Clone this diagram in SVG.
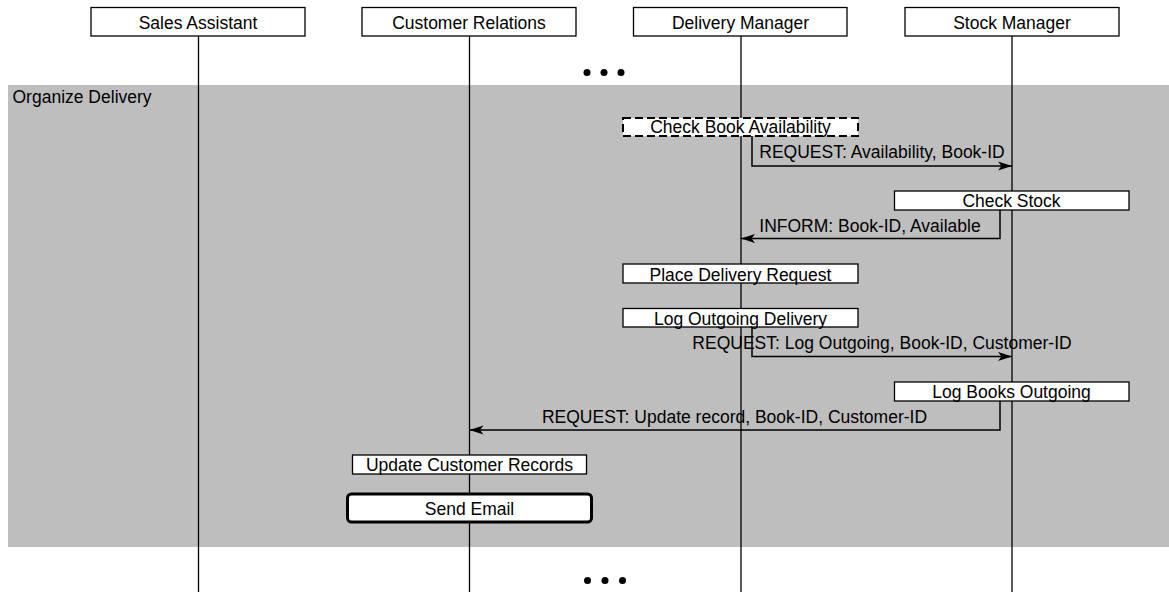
<svg xmlns="http://www.w3.org/2000/svg" width="1169" height="592" viewBox="0 0 1169 592">
  <style>
    text { font-family: "Liberation Sans", Arial, sans-serif; font-size: 17.5px; fill: #000; }
    .mid { text-anchor: middle; }
    .box { fill: #fff; stroke: #000; stroke-width: 1.3; }
    .dashed { fill: #fff; stroke: #000; stroke-width: 2; stroke-dasharray: 8 4; }
    .bold { fill: #fff; stroke: #000; stroke-width: 3; }
    .life { stroke: #000; stroke-width: 1.3; fill: none; }
    .msg { stroke: #000; stroke-width: 1.5; fill: none; marker-end: url(#head); }
    .dot { fill: #000; }
  </style>
  <defs>
    <marker id="head" markerUnits="userSpaceOnUse" markerWidth="16" markerHeight="12" refX="14" refY="5" orient="auto">
      <path d="M14,5 L0,0.5 L3.5,5 L0,9.5 Z" fill="#000"/>
    </marker>
  </defs>

  <rect width="1169" height="592" fill="#fff"/>

  <!-- combined fragment -->
  <g id="fragment-organize-delivery">
    <rect x="8" y="85" width="1161" height="462" fill="#bebebe"/>
    <text x="12.5" y="103">Organize Delivery</text>
  </g>

  <!-- message labels -->
  <g id="message-labels">
    <text class="mid" x="882" y="158">REQUEST: Availability, Book-ID</text>
    <text class="mid" x="870" y="231.5">INFORM: Book-ID, Available</text>
    <text class="mid" x="882" y="349">REQUEST: Log Outgoing, Book-ID, Customer-ID</text>
    <text class="mid" x="734.5" y="423">REQUEST: Update record, Book-ID, Customer-ID</text>
  </g>

  <!-- lifelines -->
  <g id="lifelines">
    <line class="life" x1="198.5" y1="36" x2="198.5" y2="592"/>
    <line class="life" x1="469.5" y1="36" x2="469.5" y2="592"/>
    <line class="life" x1="741" y1="36" x2="741" y2="592"/>
    <line class="life" x1="1012" y1="36" x2="1012" y2="592"/>
  </g>

  <!-- continuation marks -->
  <g id="ellipsis-top">
    <circle class="dot" cx="587" cy="72.5" r="3.5"/>
    <circle class="dot" cx="604" cy="72.5" r="3.5"/>
    <circle class="dot" cx="621" cy="72.5" r="3.5"/>
  </g>
  <g id="ellipsis-bottom">
    <circle class="dot" cx="587.5" cy="580.5" r="3.5"/>
    <circle class="dot" cx="605" cy="580.5" r="3.5"/>
    <circle class="dot" cx="622.5" cy="580.5" r="3.5"/>
  </g>

  <!-- messages -->
  <g id="connectors">
    <path class="msg" d="M752,136 V166 H1012"/>
    <path class="msg" d="M1000,210 V238.5 H741"/>
    <path class="msg" d="M752,327 V356.5 H1012"/>
    <path class="msg" d="M1000,401 V430 H469.5"/>
  </g>

  <!-- participants -->
  <g id="sales-assistant">
    <rect class="box" x="91" y="7.5" width="214" height="28.5"/>
    <text class="mid" x="198" y="28.5">Sales Assistant</text>
  </g>
  <g id="customer-relations">
    <rect class="box" x="362" y="7.5" width="214" height="28.5"/>
    <text class="mid" x="469" y="28.5">Customer Relations</text>
  </g>
  <g id="delivery-manager">
    <rect class="box" x="633.5" y="7.5" width="213.5" height="28.5"/>
    <text class="mid" x="740.5" y="28.5">Delivery Manager</text>
  </g>
  <g id="stock-manager">
    <rect class="box" x="905" y="7.5" width="214" height="28.5"/>
    <text class="mid" x="1012" y="28.5">Stock Manager</text>
  </g>

  <!-- activities -->
  <g id="check-book-availability">
    <rect class="dashed" x="623" y="118" width="235" height="18"/>
    <text class="mid" x="740.5" y="133.3">Check Book Availability</text>
  </g>
  <g id="check-stock">
    <rect class="box" x="894.5" y="191" width="234.5" height="19"/>
    <text class="mid" x="1011.5" y="206.7">Check Stock</text>
  </g>
  <g id="place-delivery-request">
    <rect class="box" x="623" y="264" width="235" height="19"/>
    <text class="mid" x="740.5" y="280.5">Place Delivery Request</text>
  </g>
  <g id="log-outgoing-delivery">
    <rect class="box" x="623" y="308.5" width="235" height="18.5"/>
    <text class="mid" x="740.5" y="325">Log Outgoing Delivery</text>
  </g>
  <g id="log-books-outgoing">
    <rect class="box" x="894.5" y="382" width="234.5" height="19"/>
    <text class="mid" x="1011.5" y="398.3">Log Books Outgoing</text>
  </g>
  <g id="update-customer-records">
    <rect class="box" x="352.5" y="455" width="234" height="19"/>
    <text class="mid" x="469.5" y="471">Update Customer Records</text>
  </g>
  <g id="send-email">
    <rect class="bold" x="347.5" y="494" width="244" height="28" rx="4"/>
    <text class="mid" x="469.5" y="514.5">Send Email</text>
  </g>
</svg>
